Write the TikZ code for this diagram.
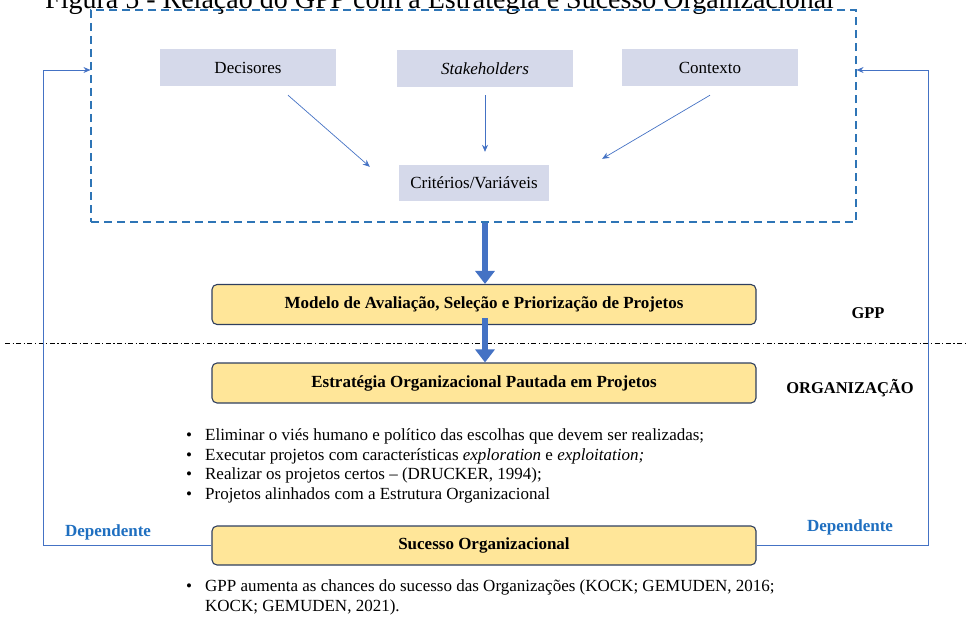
\documentclass[tikz,border=0pt]{standalone}
\usepackage{fontspec}
\setmainfont{Liberation Serif}
\usetikzlibrary{arrows.meta, positioning}

\definecolor{frameblue}{HTML}{2E75B6}
\definecolor{arrowblue}{HTML}{4472C4}
\definecolor{boxgray}{HTML}{D5D9EA}
\definecolor{boxyellow}{HTML}{FFE699}
\definecolor{boxedge}{HTML}{2F3F5F}
\definecolor{depblue}{HTML}{1F6FC0}

\begin{document}
\begin{tikzpicture}[x=1pt, y=-1pt]

\tikzset{crit/.style = {fill=boxgray, minimum width=176pt, minimum height=37pt, inner sep=0pt, font=\fontsize{17}{20}\selectfont}}
\tikzset{stage/.style = {draw=boxedge, line width=1.1pt, fill=boxyellow, rounded corners=5pt, minimum width=544pt, minimum height=40pt, inner sep=0pt, font=\bfseries\fontsize{17}{20}\selectfont}}
\tikzset{feed/.style = {draw=arrowblue, line width=0.7pt, -{Stealth[length=7pt, width=6pt]}}}
\tikzset{fat/.style = {draw=arrowblue, line width=6pt, -{Triangle[length=13pt, width=19pt]}}}
\tikzset{layer/.style = {font=\bfseries\fontsize{16.5}{20}\selectfont}}
\tikzset{dep/.style = {text=depblue, font=\bfseries\fontsize{17}{20}\selectfont}}

\useasboundingbox (0,0) rectangle (968,618);
\clip (0,0) rectangle (968,618);

%title
\node[anchor=base west, inner sep=0pt, font=\fontsize{28}{32}\selectfont] (title) at (45,9) {Figura 5 - Relação do GPP com a Estratégia e Sucesso Organizacional};

%frame and criteria
\node[draw=frameblue, line width=1.1pt, dash pattern=on 8pt off 5pt, minimum width=765pt, minimum height=212pt, inner sep=0pt] (frame) at (473.5,116) {};
\node[crit] (dec) at (248,67.5) {Decisores};
\node[crit] (stk) at (485,68.5) {\itshape Stakeholders};
\node[crit] (ctx) at (710,67.5) {Contexto};
\node[crit, minimum width=150pt, minimum height=36pt] (var) at (474,183) {Critérios/Variáveis};

\draw[feed] ([xshift=40pt, yshift=-9pt]dec.south) -- ([xshift=-29pt, yshift=-2pt]var.north west);
\draw[feed] ([yshift=-8pt]stk.south) -- ([yshift=13pt]var.north -| stk.south);
\draw[feed] ([yshift=-9pt]ctx.south) -- ([xshift=53pt, yshift=6pt]var.north east);

%stages
\node[stage] (mod) at (484,304.5) {Modelo de Avaliação, Seleção e Priorização de Projetos};
\node[stage] (est) at (484,383) {Estratégia Organizacional Pautada em Projetos};
\node[stage, minimum height=39pt] (suc) at (484,545.5) {Sucesso Organizacional};

\draw[line width=1pt, dash pattern=on 5pt off 2.5pt on 1.2pt off 2.5pt] (5,343) -- (968,343);

\draw[fat] (stk.south |- frame.south) -- (stk.south |- mod.north);
\draw[fat] ([yshift=7pt]mod.south -| stk.south) -- (stk.south |- est.north);

\node[layer] (gpp) at (868,313) {GPP};
\node[layer] (org) at (850,388) {ORGANIZAÇÃO};

%lists
\node[anchor=north west, inner sep=0pt, font=\fontsize{17}{19.5}\selectfont] (list1) at (186,427) {%
\begin{tabular}{@{}c@{\hspace{13pt}}l@{}}
\textbullet & Eliminar o viés humano e político das escolhas que devem ser realizadas;\\
\textbullet & Executar projetos com características \textit{exploration} e \textit{exploitation;}\\
\textbullet & Realizar os projetos certos -- (DRUCKER, 1994);\\
\textbullet & Projetos alinhados com a Estrutura Organizacional
\end{tabular}};

\node[anchor=north west, inner sep=0pt, font=\fontsize{17}{19.5}\selectfont] (list2) at (186,578) {%
\begin{tabular}{@{}c@{\hspace{13pt}}l@{}}
\textbullet & GPP aumenta as chances do sucesso das Organizações (KOCK; GEMUDEN, 2016;\\
 & KOCK; GEMUDEN, 2021).
\end{tabular}};

%feedback
\coordinate (lturn) at (43,70);
\coordinate (rturn) at (928,70);
\draw[feed] (suc.west) -| (lturn) -- (frame.west |- lturn);
\draw[feed] (suc.east) -| (rturn) -- (frame.east |- rturn);
\node[dep] (depl) at (108,532) {Dependente};
\node[dep] (depr) at (850,527) {Dependente};

\end{tikzpicture}
\end{document}
